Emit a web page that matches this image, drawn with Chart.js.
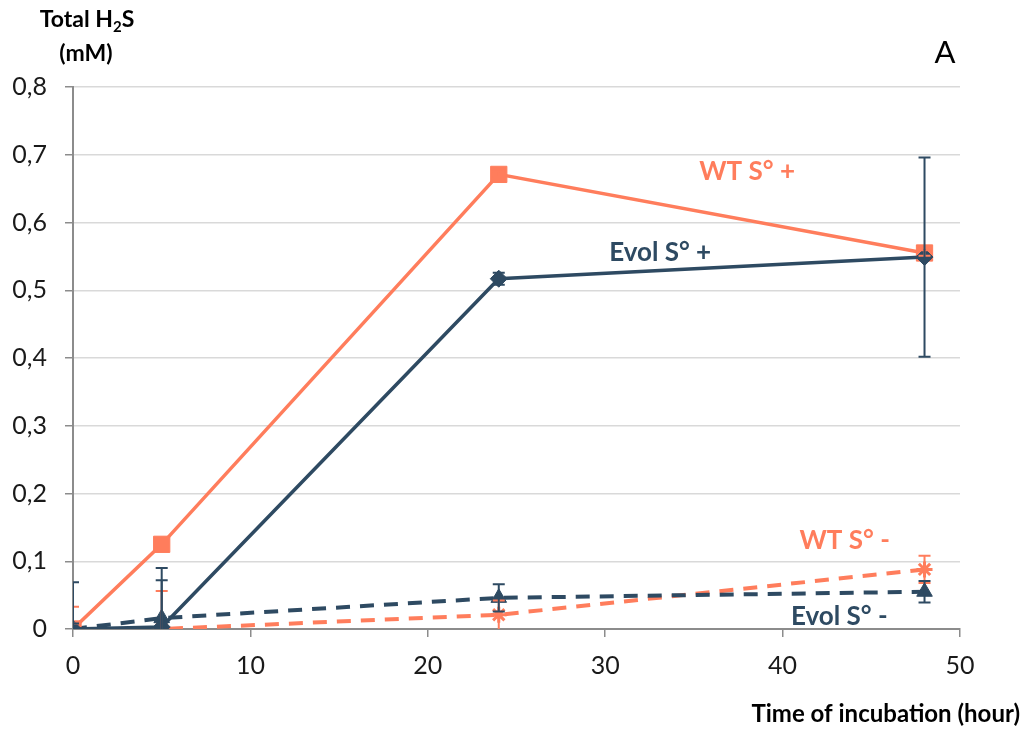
<!DOCTYPE html>
<html><head><meta charset="utf-8">
<script src="https://cdn.jsdelivr.net/npm/chart.js@4.4.1/dist/chart.umd.min.js"></script>
<style>html,body{margin:0;padding:0;background:#fff;overflow:hidden}#wrap{width:1026px;height:731px;position:relative}</style>
</head><body><div id="wrap"><canvas id="c" width="1026" height="731"></canvas></div>
<script>
const hours = [0, 5, 24, 48];
const wtPlus = [0, 0.125, 0.671, 0.555];
const wtPlusErr = [0.033, 0, 0.004, 0.004];
const evolPlus = [0, 0.003, 0.517, 0.549];
const evolPlusErr = [0.069, 0.087, 0.009, 0.147];
const wtMinus = [0, 0, 0.021, 0.088];
const wtMinusErr = [0.008, 0.056, 0.021, 0.02];
const evolMinus = [0, 0.016, 0.046, 0.055];
const evolMinusErr = [0.008, 0.056, 0.02, 0.016];
const xTicks = [0, 10, 20, 30, 40, 50];
const yTicks = [0, 0.1, 0.2, 0.3, 0.4, 0.5, 0.6, 0.7, 0.8];
const seriesNames = ['Evol S° +', 'WT S° +', 'Evol S° -', 'WT S° -'];
const labelPos = [
  {text: 'WT S° +', x: 38.0, y: 0.6745, c: 'salmon'},
  {text: 'Evol S° +', x: 33.1, y: 0.556, c: 'navy'},
  {text: 'WT S° -', x: 43.5, y: 0.130, c: 'salmon'},
  {text: 'Evol S° -', x: 43.2, y: 0.018, c: 'navy'}
];
const COL = {salmon: '#FF7D5C', navy: '#2E4A62'};
const FONT = 'Lato, "Open Sans", sans-serif';

function pts(ys){ return hours.map((h,i)=>({x:h, y:ys[i]})); }

const errPlugin = {
  id: 'err',
  afterDatasetsDraw(chart){
    const ctx = chart.ctx, xs = chart.scales.x, ys = chart.scales.y, ca = chart.chartArea;
    ctx.save();
    ctx.beginPath(); ctx.rect(ca.left, ca.top - 5, ca.right - ca.left + 5, ca.bottom - ca.top + 5); ctx.clip();
    const list = [[wtMinus, wtMinusErr, COL.salmon],[wtPlus, wtPlusErr, COL.salmon],[evolMinus, evolMinusErr, COL.navy],[evolPlus, evolPlusErr, COL.navy]];
    list.forEach(([vals, errs, col])=>{
      ctx.strokeStyle = col; ctx.lineWidth = 2;
      hours.forEach((h,i)=>{
        const e = errs[i]; if (!e) return;
        const px = xs.getPixelForValue(h);
        const top = ys.getPixelForValue(vals[i] + e);
        const bot = ys.getPixelForValue(Math.max(0, vals[i] - e));
        ctx.beginPath();
        ctx.moveTo(px, top); ctx.lineTo(px, bot);
        ctx.moveTo(px - 6, top); ctx.lineTo(px + 6, top);
        if (vals[i] - e > 0) { ctx.moveTo(px - 6, bot); ctx.lineTo(px + 6, bot); }
        ctx.stroke();
      });
    });
    ctx.restore();
  },
  afterDraw(chart){
    const ctx = chart.ctx, xs = chart.scales.x, ys = chart.scales.y;
    ctx.save();
    ctx.textAlign = 'center'; ctx.textBaseline = 'middle';
    labelPos.forEach(l=>{
      ctx.font = 'bold 26px ' + FONT;
      ctx.fillStyle = COL[l.c];
      ctx.fillText(l.text, xs.getPixelForValue(l.x), ys.getPixelForValue(l.y));
    });
    // y axis title with subscript
    ctx.fillStyle = '#000';
    const big = 'bold 23px ' + FONT, small = 'bold 15px ' + FONT;
    ctx.font = big;
    const p1 = 'Total H', p2 = '2', p3 = 'S';
    ctx.textAlign = 'left';
    const w1 = ctx.measureText(p1).width;
    ctx.font = small;
    const w2 = ctx.measureText(p2).width;
    ctx.font = big;
    const w3 = ctx.measureText(p3).width;
    let x0 = 87 - (w1 + w2 + w3) / 2;
    ctx.fillText(p1, x0, 20);
    ctx.font = small;
    ctx.fillText(p2, x0 + w1, 27);
    ctx.font = big;
    ctx.fillText(p3, x0 + w1 + w2, 20);
    ctx.textAlign = 'center';
    ctx.fillText('(mM)', 86, 54);
    // panel letter
    ctx.font = '31px ' + FONT;
    ctx.fillText('A', 945, 53);
    // x axis title
    ctx.font = 'bold 24px ' + FONT;
    ctx.textAlign = 'right';
    ctx.fillText('Time of incubation (hour)', 1020, 714);
    ctx.restore();
  }
};

new Chart(document.getElementById('c'), {
  type: 'line',
  data: {
    datasets: [
      {label: seriesNames[0], data: pts(evolPlus), borderColor: COL.navy, backgroundColor: COL.navy, borderWidth: 3.5,
       pointStyle: 'rectRot', pointRadius: 8.5, pointBorderWidth: 1},
      {label: seriesNames[1], data: pts(wtPlus), borderColor: COL.salmon, backgroundColor: COL.salmon, borderWidth: 3.5,
       pointStyle: 'rect', pointRadius: 11.5, pointBorderWidth: 1},
      {label: seriesNames[2], data: pts(evolMinus), borderColor: COL.navy, backgroundColor: COL.navy, borderWidth: 4, borderDash: [14, 10],
       pointStyle: 'triangle', pointRadius: 9, pointBorderWidth: 1},
      {label: seriesNames[3], data: pts(wtMinus), borderColor: COL.salmon, backgroundColor: COL.salmon, borderWidth: 4, borderDash: [14, 10],
       pointStyle: 'star', pointRadius: 8, pointBorderWidth: 3}
    ]
  },
  options: {
    responsive: false, devicePixelRatio: 1, animation: false,
    layout: {padding: {left: 0, top: 87, right: 66, bottom: 0}},
    plugins: {legend: {display: false}, tooltip: {enabled: false}},
    elements: {line: {tension: 0}},
    scales: {
      x: {
        type: 'linear', min: 0, max: 50,
        afterBuildTicks: s => { s.ticks = xTicks.map(v=>({value: v})); },
        afterFit: s => { s.height = 102; },
        grid: {drawOnChartArea: false, drawTicks: true, tickLength: 8, color: '#8C8C8C', tickColor: '#8C8C8C', lineWidth: 1.5},
        border: {color: '#8C8C8C', width: 2},
        ticks: {font: {family: FONT, size: 25}, color: '#1a1a1a', padding: 14, maxRotation: 0}
      },
      y: {
        min: 0, max: 0.8,
        afterBuildTicks: s => { s.ticks = yTicks.map(v=>({value: v})); },
        afterFit: s => { s.width = 73; },
        grid: {color: '#D9D9D9', lineWidth: 1.5, drawTicks: true, tickLength: 8, tickColor: '#8C8C8C'},
        border: {color: '#8C8C8C', width: 2},
        ticks: {font: {family: FONT, size: 25}, color: '#1a1a1a', padding: 18,
          callback: v => v === 0 ? '0' : v.toFixed(1).replace('.', ',')}
      }
    }
  },
  plugins: [errPlugin]
});
</script></body></html>
